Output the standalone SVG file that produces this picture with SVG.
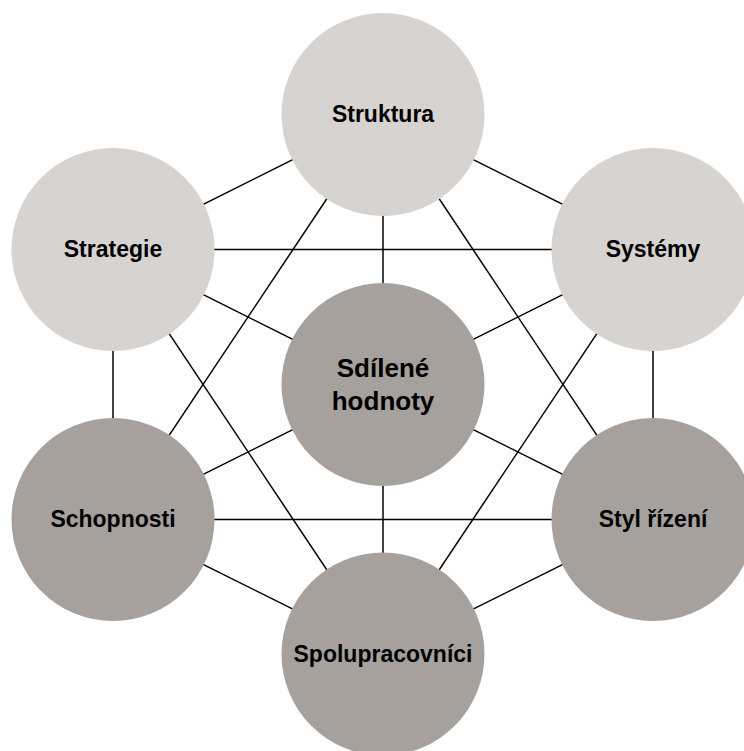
<svg xmlns="http://www.w3.org/2000/svg" width="744" height="751" viewBox="0 0 744 751">
<style>
.edge{stroke:#000;stroke-width:1.5;fill:none}
.light{fill:#D6D3D0}
.dark{fill:#A6A19D}
.lbl{font-family:"Liberation Sans",Arial,sans-serif;font-weight:bold;font-size:23px;fill:#000;text-anchor:middle}
.big{font-size:26px}
</style>
<rect width="744" height="751" fill="#fff"/>
<g id="connectors">
<line class="edge" x1="383" y1="114.5" x2="113" y2="249.5"/>
<line class="edge" x1="383" y1="114.5" x2="653" y2="249.5"/>
<line class="edge" x1="383" y1="114.5" x2="383" y2="384.5"/>
<line class="edge" x1="383" y1="114.5" x2="113" y2="519.5"/>
<line class="edge" x1="383" y1="114.5" x2="653" y2="519.5"/>
<line class="edge" x1="113" y1="249.5" x2="653" y2="249.5"/>
<line class="edge" x1="113" y1="249.5" x2="383" y2="384.5"/>
<line class="edge" x1="113" y1="249.5" x2="113" y2="519.5"/>
<line class="edge" x1="113" y1="249.5" x2="383" y2="654"/>
<line class="edge" x1="653" y1="249.5" x2="383" y2="384.5"/>
<line class="edge" x1="653" y1="249.5" x2="653" y2="519.5"/>
<line class="edge" x1="653" y1="249.5" x2="383" y2="654"/>
<line class="edge" x1="113" y1="519.5" x2="383" y2="384.5"/>
<line class="edge" x1="113" y1="519.5" x2="653" y2="519.5"/>
<line class="edge" x1="113" y1="519.5" x2="383" y2="654"/>
<line class="edge" x1="653" y1="519.5" x2="383" y2="384.5"/>
<line class="edge" x1="653" y1="519.5" x2="383" y2="654"/>
<line class="edge" x1="383" y1="384.5" x2="383" y2="654"/>
</g>
<g id="struktura">
<circle class="light" cx="383" cy="114.5" r="101.5"/>
<text class="lbl" x="383" y="122">Struktura</text>
</g>
<g id="strategie">
<circle class="light" cx="113" cy="249.5" r="101.5"/>
<text class="lbl" x="113" y="257">Strategie</text>
</g>
<g id="systemy">
<circle class="light" cx="653" cy="249.5" r="101.5"/>
<text class="lbl" x="653" y="257">Systémy</text>
</g>
<g id="sdilene-hodnoty">
<circle class="dark" cx="383" cy="384.5" r="101.5"/>
<text class="lbl big" x="383" y="377">Sdílené</text>
<text class="lbl big" x="383" y="409.5">hodnoty</text>
</g>
<g id="schopnosti">
<circle class="dark" cx="113" cy="519.5" r="101.5"/>
<text class="lbl" x="113" y="527">Schopnosti</text>
</g>
<g id="styl-rizeni">
<circle class="dark" cx="653" cy="519.5" r="101.5"/>
<text class="lbl" x="653" y="527">Styl řízení</text>
</g>
<g id="spolupracovnici">
<circle class="dark" cx="383" cy="654" r="101.5"/>
<text class="lbl" x="383" y="661.5">Spolupracovníci</text>
</g>
</svg>
